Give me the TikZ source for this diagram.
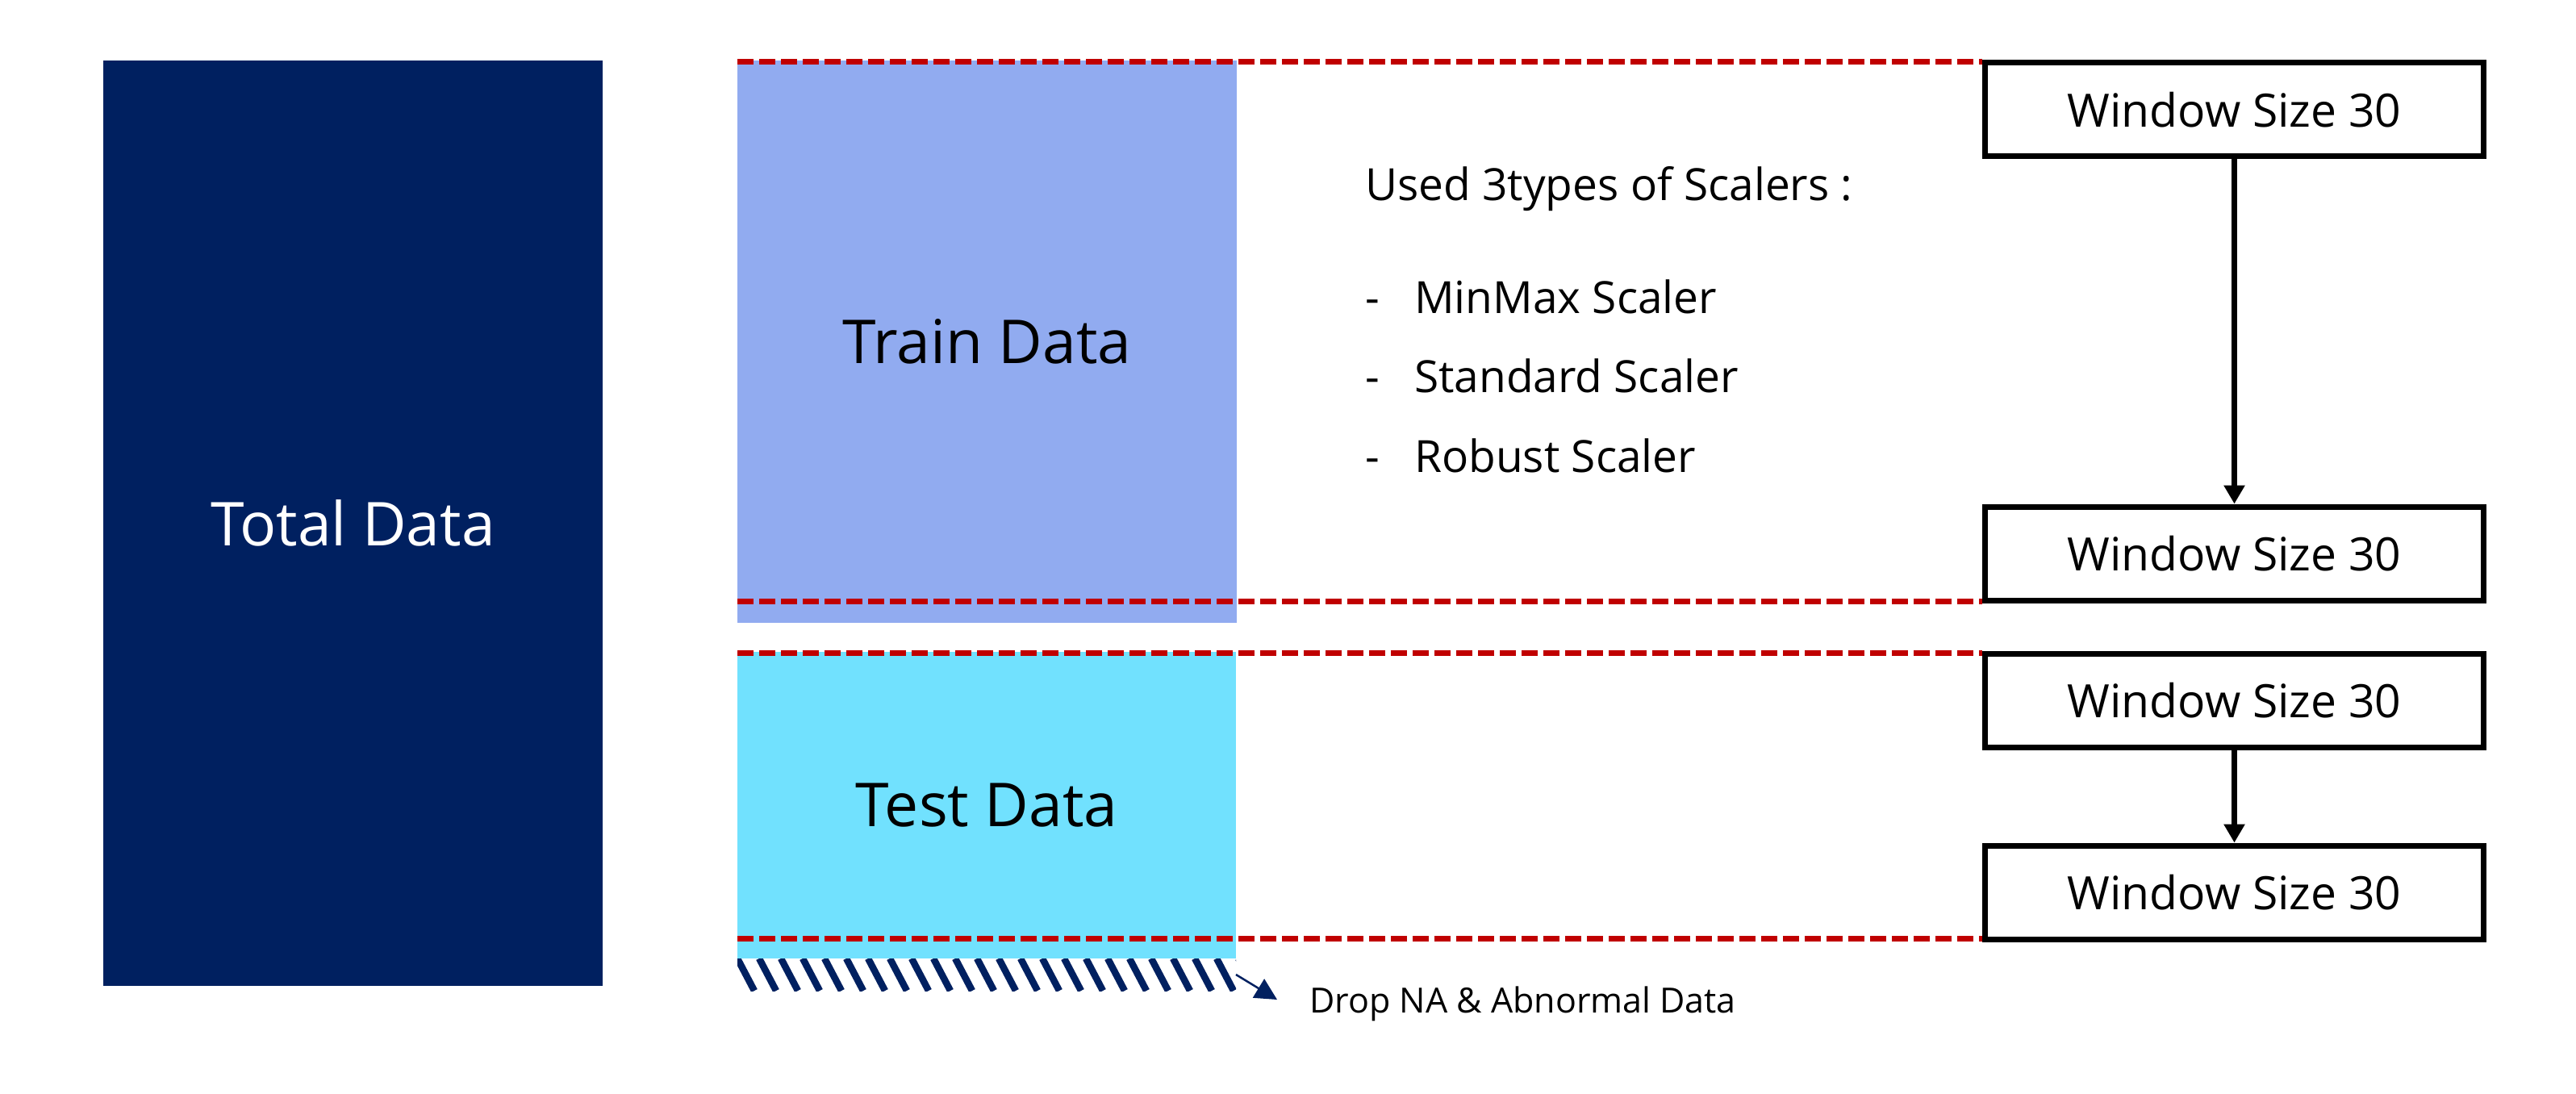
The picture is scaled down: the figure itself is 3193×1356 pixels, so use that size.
\documentclass[tikz,border=0pt]{standalone}
\usepackage{fontspec}
\setmainfont{Open Sans}
\usetikzlibrary{arrows.meta}
\definecolor{navy}{RGB}{0,32,96}
\definecolor{trainblue}{RGB}{145,171,240}
\definecolor{testcyan}{RGB}{113,225,254}
\definecolor{dashred}{RGB}{192,0,0}
\begin{document}
\begin{tikzpicture}[x=1pt,y=-1pt,
  block/.style={inner sep=0pt, outer sep=0pt, font=\fontsize{75}{90}\selectfont},
  winbox/.style={draw=black, line width=7pt, minimum width=618pt, minimum height=116pt, inner sep=0pt, font=\fontsize{57}{68}\selectfont},
  sep/.style={dashred, line width=7pt, dash pattern=on 20pt off 7pt},
  flow/.style={line width=6.5pt, -{Triangle[length=23pt,width=25pt]}},
  scal/.style={font=\fontsize{55}{66}\selectfont, anchor=base west, inner sep=0pt}
]
\useasboundingbox (0,0) rectangle (3193,1356);
% data blocks
\node[block, fill=navy, text=white, minimum width=619pt, minimum height=1147pt] (total) at (437.5,648.5) {Total Data};
\node[block, fill=trainblue, minimum width=619pt, minimum height=697pt] (train) at (1223.5,423.5) {Train Data};
\node[block, fill=testcyan, minimum width=618pt, minimum height=380pt] (test) at (1223,998) {Test Data};
\node[inner sep=0pt, outer sep=0pt, minimum width=618pt, minimum height=40pt,
  path picture={
    \foreach \i in {-3,...,24}
      \draw[navy, line width=8.5pt] ([xshift=\i*27pt]path picture bounding box.north west) -- ++(21,40);
  }] (hatch) at (1223,1208) {};
% window boxes
\node[winbox] (w1) at (2769.5,136) {Window Size 30};
\node[winbox] (w2) at (2769.5,686) {Window Size 30};
\node[winbox] (w3) at (2769.5,868) {Window Size 30};
\node[winbox] (w4) at (2769.5,1106) {Window Size 30};
\draw[flow] (w1.south) -- (w2.north);
\draw[flow] (w3.south) -- (w4.north);
% dashed separators
\coordinate (l1) at (914,77);
\coordinate (l2) at (914,745);
\coordinate (l3) at (914,809);
\coordinate (l4) at (914,1163);
\draw[sep] (l1) -- (l1 -| w1.west);
\draw[sep] (l2) -- (l2 -| w2.west);
\draw[sep] (l3) -- (l3 -| w3.west);
\draw[sep] (l4) -- (l4 -| w4.west);
% scalers text
\node[scal] (used) at (1692,249) {Used 3types of Scalers :};
\node[scal] (b1) at (1692,388) {-};
\node[scal] (s1) at (1753,388) {MinMax Scaler};
\node[scal] (b2) at (1692,486) {-};
\node[scal] (s2) at (1753,486) {Standard Scaler};
\node[scal] (b3) at (1692,585) {-};
\node[scal] (s3) at (1753,585) {Robust Scaler};
% drop note
\coordinate (dropend) at (1583,1239);
\draw[navy, line width=2.5pt, -{Triangle[length=27pt,width=27pt]}] (hatch.east) -- (dropend);
\node[font=\fontsize{43}{52}\selectfont, anchor=base west, inner sep=0pt] (drop) at (1623,1255) {Drop NA \& Abnormal Data};
\end{tikzpicture}
\end{document}
